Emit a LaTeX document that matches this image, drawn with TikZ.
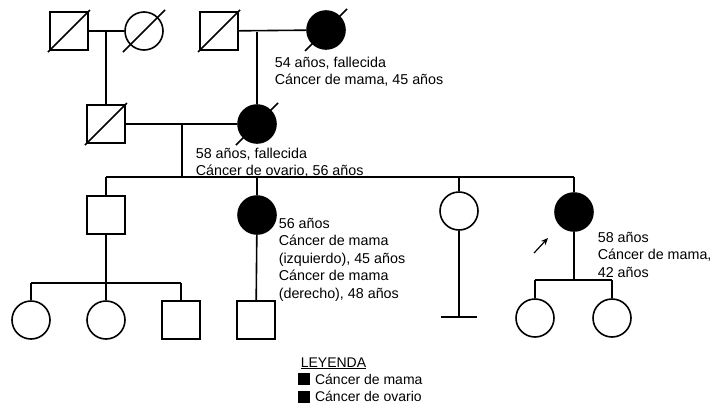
\documentclass[tikz,border=0pt]{standalone}
\usepackage{fontspec}
\setmainfont{Liberation Sans}
\usetikzlibrary{calc,arrows.meta}
\tikzset{
  male/.style={draw,rectangle,minimum size=38pt,inner sep=0pt},
  female/.style={draw,circle,minimum size=38pt,inner sep=0pt},
  affected/.style={fill=black},
  info/.style={anchor=north west,align=left,inner sep=0pt,font=\fontsize{14.3}{17.5}\selectfont},
  key/.style={draw,fill=black,rectangle,minimum size=11pt,inner sep=0pt,line width=0.6pt},
  keytext/.style={anchor=west,inner sep=0pt,font=\fontsize{14}{17}\selectfont},
}
\begin{document}
\begin{tikzpicture}[x=1pt,y=-1pt,line width=1.6pt]
\useasboundingbox (0,0) rectangle (719,410);
% grandparents
\node[male] (gfp) at (69,31) {};
\node[female] (gmp) at (144,31) {};
\node[male] (gfm) at (219,31) {};
\node[female,affected] (gmm) at (326,30) {};
\node[info] (gmminfo) at (274,56) {54 años, fallecida\\Cáncer de mama, 45 años};
% parents
\node[male] (fa) at (106,124) {};
\node[female,affected] (mo) at (257,124) {};
\node[info] (moinfo) at (195,147) {58 años, fallecida\\Cáncer de ovario, 56 años};
% children
\node[male] (s1) at (106,215) {};
\node[female,affected] (d1) at (257,215) {};
\node[female] (d2) at (459,211) {};
\node[female,affected] (d3) at (574,212) {};
\node[info] (d1info) at (278,217) {56 años\\Cáncer de mama\\(izquierdo), 45 años\\Cáncer de mama\\(derecho), 48 años};
\node[info] (d3info) at (597,231) {58 años\\Cáncer de mama,\\42 años};
% grandchildren
\node[female] (g1) at (31,320) {};
\node[female] (g2) at (106,320) {};
\node[male] (g3) at (181,320) {};
\node[male] (g4) at (256,320) {};
\node[female] (g5) at (535,318) {};
\node[female] (g6) at (612,318) {};
% deceased
\foreach \n in {gfp,gmp,gfm,gmm,fa,mo}
  \draw ($(\n)+(-21,21)$) -- ($(\n)+(21,-21)$);
% couples and descent
\draw (gfp) -- (gmp);
\draw (gfm) -- (gmm);
\draw (fa) -- (mo);
\coordinate (m1) at (106,32);
\coordinate (m2) at (257,32);
\coordinate (m3) at (182,124);
\draw (m1) -- (fa);
\draw (m2) -- (mo);
\coordinate (sibl) at (106,177);
\coordinate (sibr) at (574,177);
\draw (m3) -- (m3 |- sibl);
\draw (sibl) -- (sibr);
\foreach \n in {s1,d1,d2,d3}
  \draw (\n |- sibl) -- (\n);
% offspring of s1
\coordinate (g1l) at (31,283);
\coordinate (g1r) at (181,283);
\draw (s1) -- (s1 |- g1l);
\draw (g1l) -- (g1r);
\foreach \n in {g1,g2,g3}
  \draw (\n |- g1l) -- (\n);
\draw (d1) -- (g4);
% no offspring
\coordinate (nol) at (441,317);
\coordinate (nor) at (477,317);
\draw (d2) -- (d2 |- nol);
\draw (nol) -- (nor);
% offspring of d3
\coordinate (g2l) at (535,280);
\coordinate (g2r) at (612,280);
\draw (d3) -- (d3 |- g2l);
\draw (g2l) -- (g2r);
\foreach \n in {g5,g6}
  \draw (\n |- g2l) -- (\n);
% proband
\coordinate (pa) at (534,253);
\coordinate (pb) at (548,238);
\draw[-{Stealth[length=7pt,width=6pt]},line width=1.2pt] (pa) -- (pb);
% legend
\node[keytext,anchor=base west] (leg) at (300,367) {\underline{LEYENDA}};
\node[key] (k1) at (303.5,379) {};
\node[key] (k2) at (303.5,396.5) {};
\node[keytext] (k1text) at ($(k1.east)+(5,0)$) {Cáncer de mama};
\node[keytext] (k2text) at ($(k2.east)+(5,0)$) {Cáncer de ovario};
\end{tikzpicture}
\end{document}
